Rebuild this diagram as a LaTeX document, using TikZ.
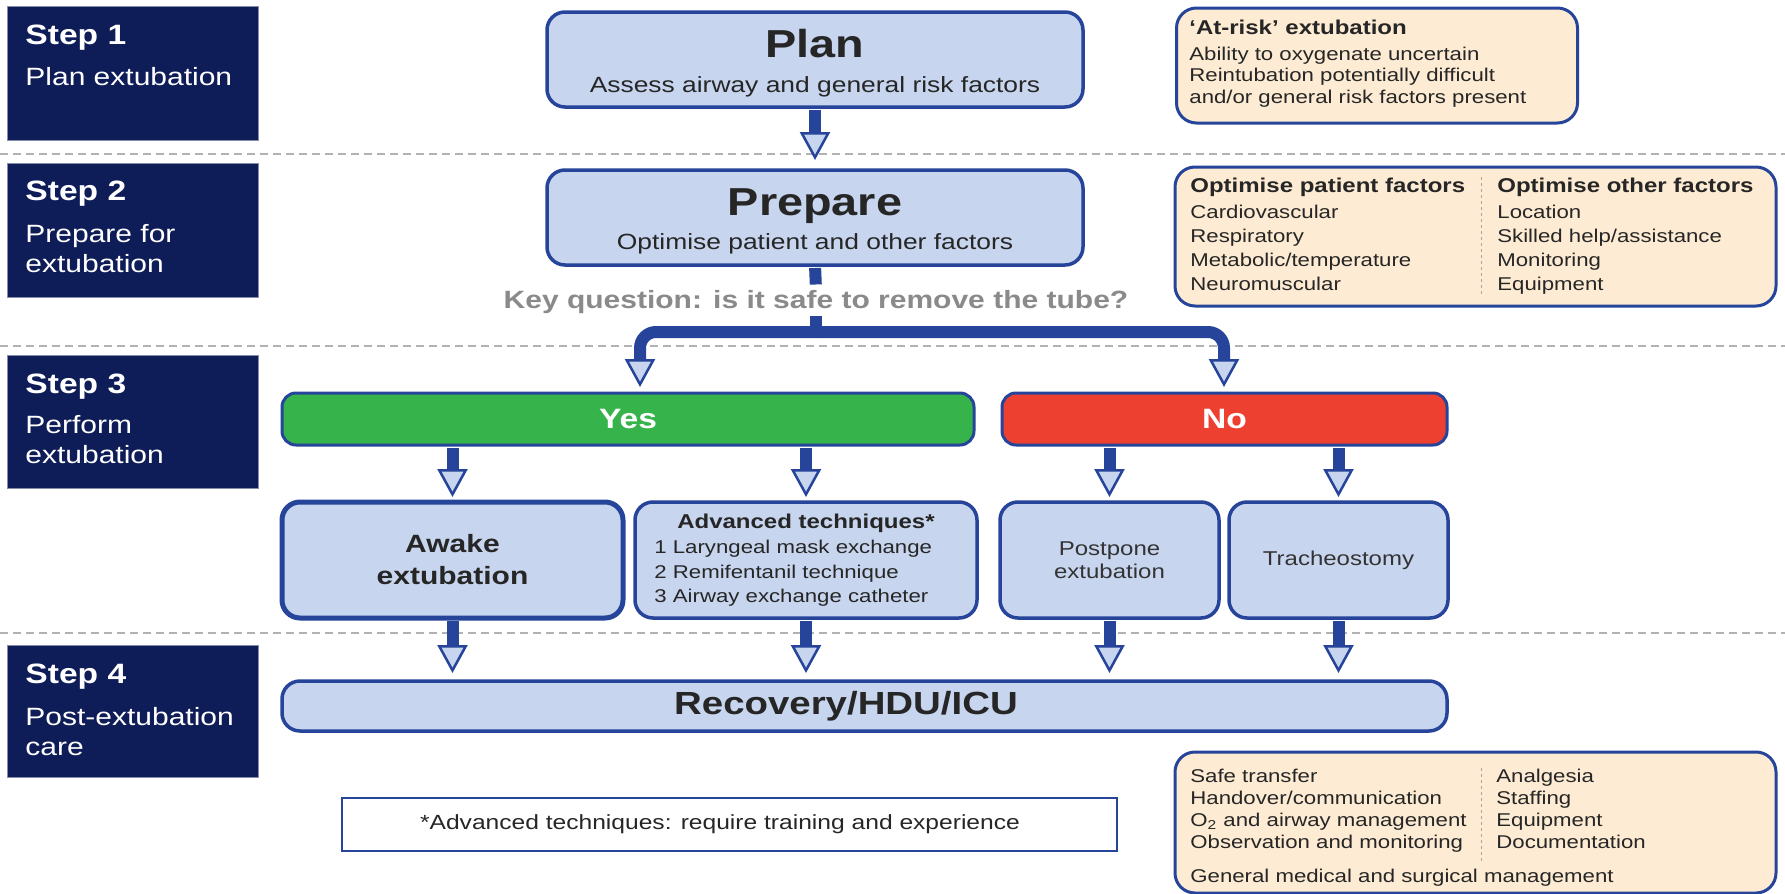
\documentclass[tikz,border=0pt]{standalone}
\usepackage{fontspec}
\setmainfont{Liberation Sans}[FakeStretch=1.2]
\usetikzlibrary{arrows.meta}
\definecolor{navy}{HTML}{0E1C58}
\definecolor{boxfill}{HTML}{C7D5EE}
\definecolor{boxline}{HTML}{26449A}
\definecolor{peach}{HTML}{FDEBD3}
\definecolor{yesgreen}{HTML}{36B34A}
\definecolor{nored}{HTML}{EE4030}
\definecolor{keygray}{HTML}{8A8A8A}
\definecolor{txtgray}{HTML}{333333}
\newcommand{\fs}[2]{\fontsize{#1}{#2}\selectfont}

\tikzset{
  stepbox/.style={fill=navy, draw=navy!50, line width=0.5pt, minimum width=125.5pt,
                  minimum height=67pt, inner sep=0, outer sep=0},
  stephead/.style={text=white, font=\fs{14}{17}\bfseries, anchor=base west, inner sep=0},
  stepsub/.style={text=white, font=\fs{12.5}{15}, anchor=north west, inner sep=0, align=left},
  mainbox/.style={fill=boxfill, draw=boxline, line width=1.75pt, rounded corners=9pt,
                  inner sep=0, outer sep=0},
  sidebox/.style={fill=peach, draw=boxline, line width=1.5pt, rounded corners=10pt,
                  inner sep=0, outer sep=0},
  choice/.style={draw=boxline, line width=1.5pt, rounded corners=7pt, minimum height=26pt,
                 text=white, font=\fs{14}{17}\bfseries, inner sep=0, outer sep=0},
  flow/.style={draw=boxline, line width=6pt,
               -{Triangle[width=15pt, length=14pt, line width=1.25pt, fill=boxfill]}},
  stem/.style={draw=boxline, line width=6pt},
  sep/.style={draw=gray!60, line width=1pt, dash pattern=on 4pt off 2.5pt},
  divider/.style={draw=gray!70, line width=0.5pt, dash pattern=on 1.5pt off 1.5pt},
  itemlist/.style={font=\fs{9.25}{#1}, text=black!85, anchor=north west, inner sep=0, align=left},
  listhead/.style={font=\fs{10}{12}\bfseries, text=black!85, anchor=base west, inner sep=0},
}

\begin{document}
\begin{tikzpicture}[x=0.5pt, y=-0.5pt]
   \useasboundingbox (0,0) rectangle (1785,894);
   \fill[white] (0,0) rectangle (1785,894);
   % separators between the steps
   \draw[sep] (0,154) -- (1785,154);
   \draw[sep] (0,346) -- (1785,346);
   \draw[sep] (0,633) -- (1785,633);

   % step column
   \node[stepbox] (s1) at (132.5,73) {};
   \node[stepbox] (s2) at (132.5,230) {};
   \node[stepbox, minimum height=66.5pt] (s3) at (132.5,421.5) {};
   \node[stepbox, minimum height=66pt] (s4) at (132.5,711) {};
   \node[stephead] (s1h) at (25,45) {Step 1};
   \node[stephead] (s2h) at (25,200) {Step 2};
   \node[stephead] (s3h) at (25,393) {Step 3};
   \node[stephead] (s4h) at (25,683) {Step 4};
   \node[stepsub] (s1b) at (25,64) {\strut Plan extubation};
   \node[stepsub] (s2b) at (25,221) {\strut Prepare for\\\strut extubation};
   \node[stepsub] (s3b) at (25,412) {\strut Perform\\\strut extubation};
   \node[stepsub] (s4b) at (25,704) {\strut Post-extubation\\\strut care};

   % plan and prepare
   \node[mainbox, minimum width=268pt, minimum height=47.5pt] (plan) at (815,59.5) {};
   \node[font=\fs{19.5}{23}\bfseries, text=black!85, anchor=base, inner sep=0] (planT) at (815,57) {Plan};
   \node[font=\fs{11}{13}, text=black!85, anchor=base, inner sep=0] (planS) at (815,92) {Assess airway and general risk factors};
   \node[mainbox, minimum width=268pt, minimum height=47.5pt] (prepare) at (815,217.5) {};
   \node[font=\fs{19.5}{23}\bfseries, text=black!85, anchor=base, inner sep=0] (prepT) at (815,215) {Prepare};
   \node[font=\fs{11}{13}, text=black!85, anchor=base, inner sep=0] (prepS) at (815,249) {Optimise patient and other factors};
   \node[font=\fs{12.5}{15}\bfseries, text=keygray, anchor=base, inner sep=0] (key) at (816,308) {Key question: is it safe to remove the tube?};

   % yes / no
   \node[choice, fill=yesgreen, minimum width=346pt] (yes) at (628,419) {Yes};
   \node[choice, fill=nored, minimum width=222.5pt] (no) at (1224.5,419) {No};

   % techniques
   \node[mainbox, line width=2.5pt, minimum width=170.5pt, minimum height=58pt,
         font=\fs{12.5}{16}\bfseries, text=black!85, align=center] (awake) at (452.5,560) {Awake\\extubation};
   \node[mainbox, minimum width=171pt, minimum height=58pt] (adv) at (806,560) {};
   \node[listhead, anchor=base] (advT) at (806,528) {Advanced techniques*};
   \node[itemlist=12.25] (advL) at (654,536) {\strut 1 Laryngeal mask exchange\\\strut 2 Remifentanil technique\\\strut 3 Airway exchange catheter};
   \node[mainbox, minimum width=109.5pt, minimum height=58pt,
         font=\fs{10}{11.5}, text=txtgray, align=center] (post) at (1109.5,560) {Postpone\\extubation};
   \node[mainbox, minimum width=109.5pt, minimum height=58pt,
         font=\fs{10}{11.5}, text=txtgray] (trach) at (1338.5,560) {Tracheostomy};

   % recovery and footnote
   \node[mainbox, minimum width=582.5pt, minimum height=25pt] (rec) at (864.5,706) {};
   \node[font=\fs{16}{19}\bfseries, text=black!85, inner sep=0] (recT) at (846,706) {Recovery/HDU/ICU};
   \node[draw=boxline, line width=1.25pt, minimum width=387.5pt, minimum height=26.5pt,
         inner sep=0] (note) at (729.5,824.5) {};
   \node[font=\fs{10.25}{12}, text=black!85, inner sep=0] (noteT) at (720,824.5) {*Advanced techniques: require training and experience};

   % side notes
   \node[sidebox, minimum width=200.5pt, minimum height=57.5pt] (risk) at (1377,65.5) {};
   \node[listhead] (riskT) at (1189,34) {‘At-risk’ extubation};
   \node[itemlist=10.75] (riskL) at (1189,45) {\strut Ability to oxygenate uncertain\\\strut Reintubation potentially difficult\\\strut and/or general risk factors present};

   \node[sidebox, minimum width=300.5pt, minimum height=69.5pt] (opt) at (1475.5,236.5) {};
   \draw[divider] (1481,177) -- (1481,295);
   \node[listhead] (optPT) at (1190,192) {Optimise patient factors};
   \node[listhead] (optOT) at (1497,192) {Optimise other factors};
   \node[itemlist=12] (optPL) at (1190,201.2) {\strut Cardiovascular\\\strut Respiratory\\\strut Metabolic/temperature\\\strut Neuromuscular};
   \node[itemlist=12] (optOL) at (1497,201.2) {\strut Location\\\strut Skilled help/assistance\\\strut Monitoring\\\strut Equipment};

   \node[sidebox, minimum width=300.5pt, minimum height=70.5pt] (care) at (1475.5,822.5) {};
   \draw[divider] (1481,768) -- (1481,862);
   \node[itemlist=11] (careL) at (1190,766.6) {\strut Safe transfer\\\strut Handover/communication\\\strut O\textsubscript{2} and airway management\\\strut Observation and monitoring};
   \node[itemlist=11] (careR) at (1496,766.6) {\strut Analgesia\\\strut Staffing\\\strut Equipment\\\strut Documentation};
   \node[font=\fs{9.25}{11}, text=black!85, anchor=base west, inner sep=0] (careG) at (1190,882) {General medical and surgical management};

   % arrows
   \coordinate (split) at (816,332);
   \coordinate (yesin) at (640,393);
   \coordinate (noin) at (1224,393);
   \draw[flow, shorten <=1.5pt, shorten >=5pt] (plan.south) -- (prepare.north);
   \draw[stem, shorten <=1.5pt, shorten >=2.5pt] (prepare.south) -- (key.north);
   \draw[stem, shorten <=1pt] (key.south) -- (split);
   \draw[flow, rounded corners=8pt, shorten >=3pt] (split) -| (yesin);
   \draw[flow, rounded corners=8pt, shorten >=3pt] (split) -| (noin);
   \draw[flow, shorten <=1.5pt, shorten >=2.5pt] (yes.south -| awake.north) -- (awake.north);
   \draw[flow, shorten <=1.5pt, shorten >=2.5pt] (yes.south -| adv.north) -- (adv.north);
   \draw[flow, shorten <=1.5pt, shorten >=2.5pt] (no.south -| post.north) -- (post.north);
   \draw[flow, shorten <=1.5pt, shorten >=2.5pt] (no.south -| trach.north) -- (trach.north);
   \draw[flow, shorten <=1.5pt, shorten >=4pt] (awake.south) -- (awake.south |- rec.north);
   \draw[flow, shorten <=1.5pt, shorten >=4pt] (adv.south) -- (adv.south |- rec.north);
   \draw[flow, shorten <=1.5pt, shorten >=4pt] (post.south) -- (post.south |- rec.north);
   \draw[flow, shorten <=1.5pt, shorten >=4pt] (trach.south) -- (trach.south |- rec.north);
\end{tikzpicture}
\end{document}
